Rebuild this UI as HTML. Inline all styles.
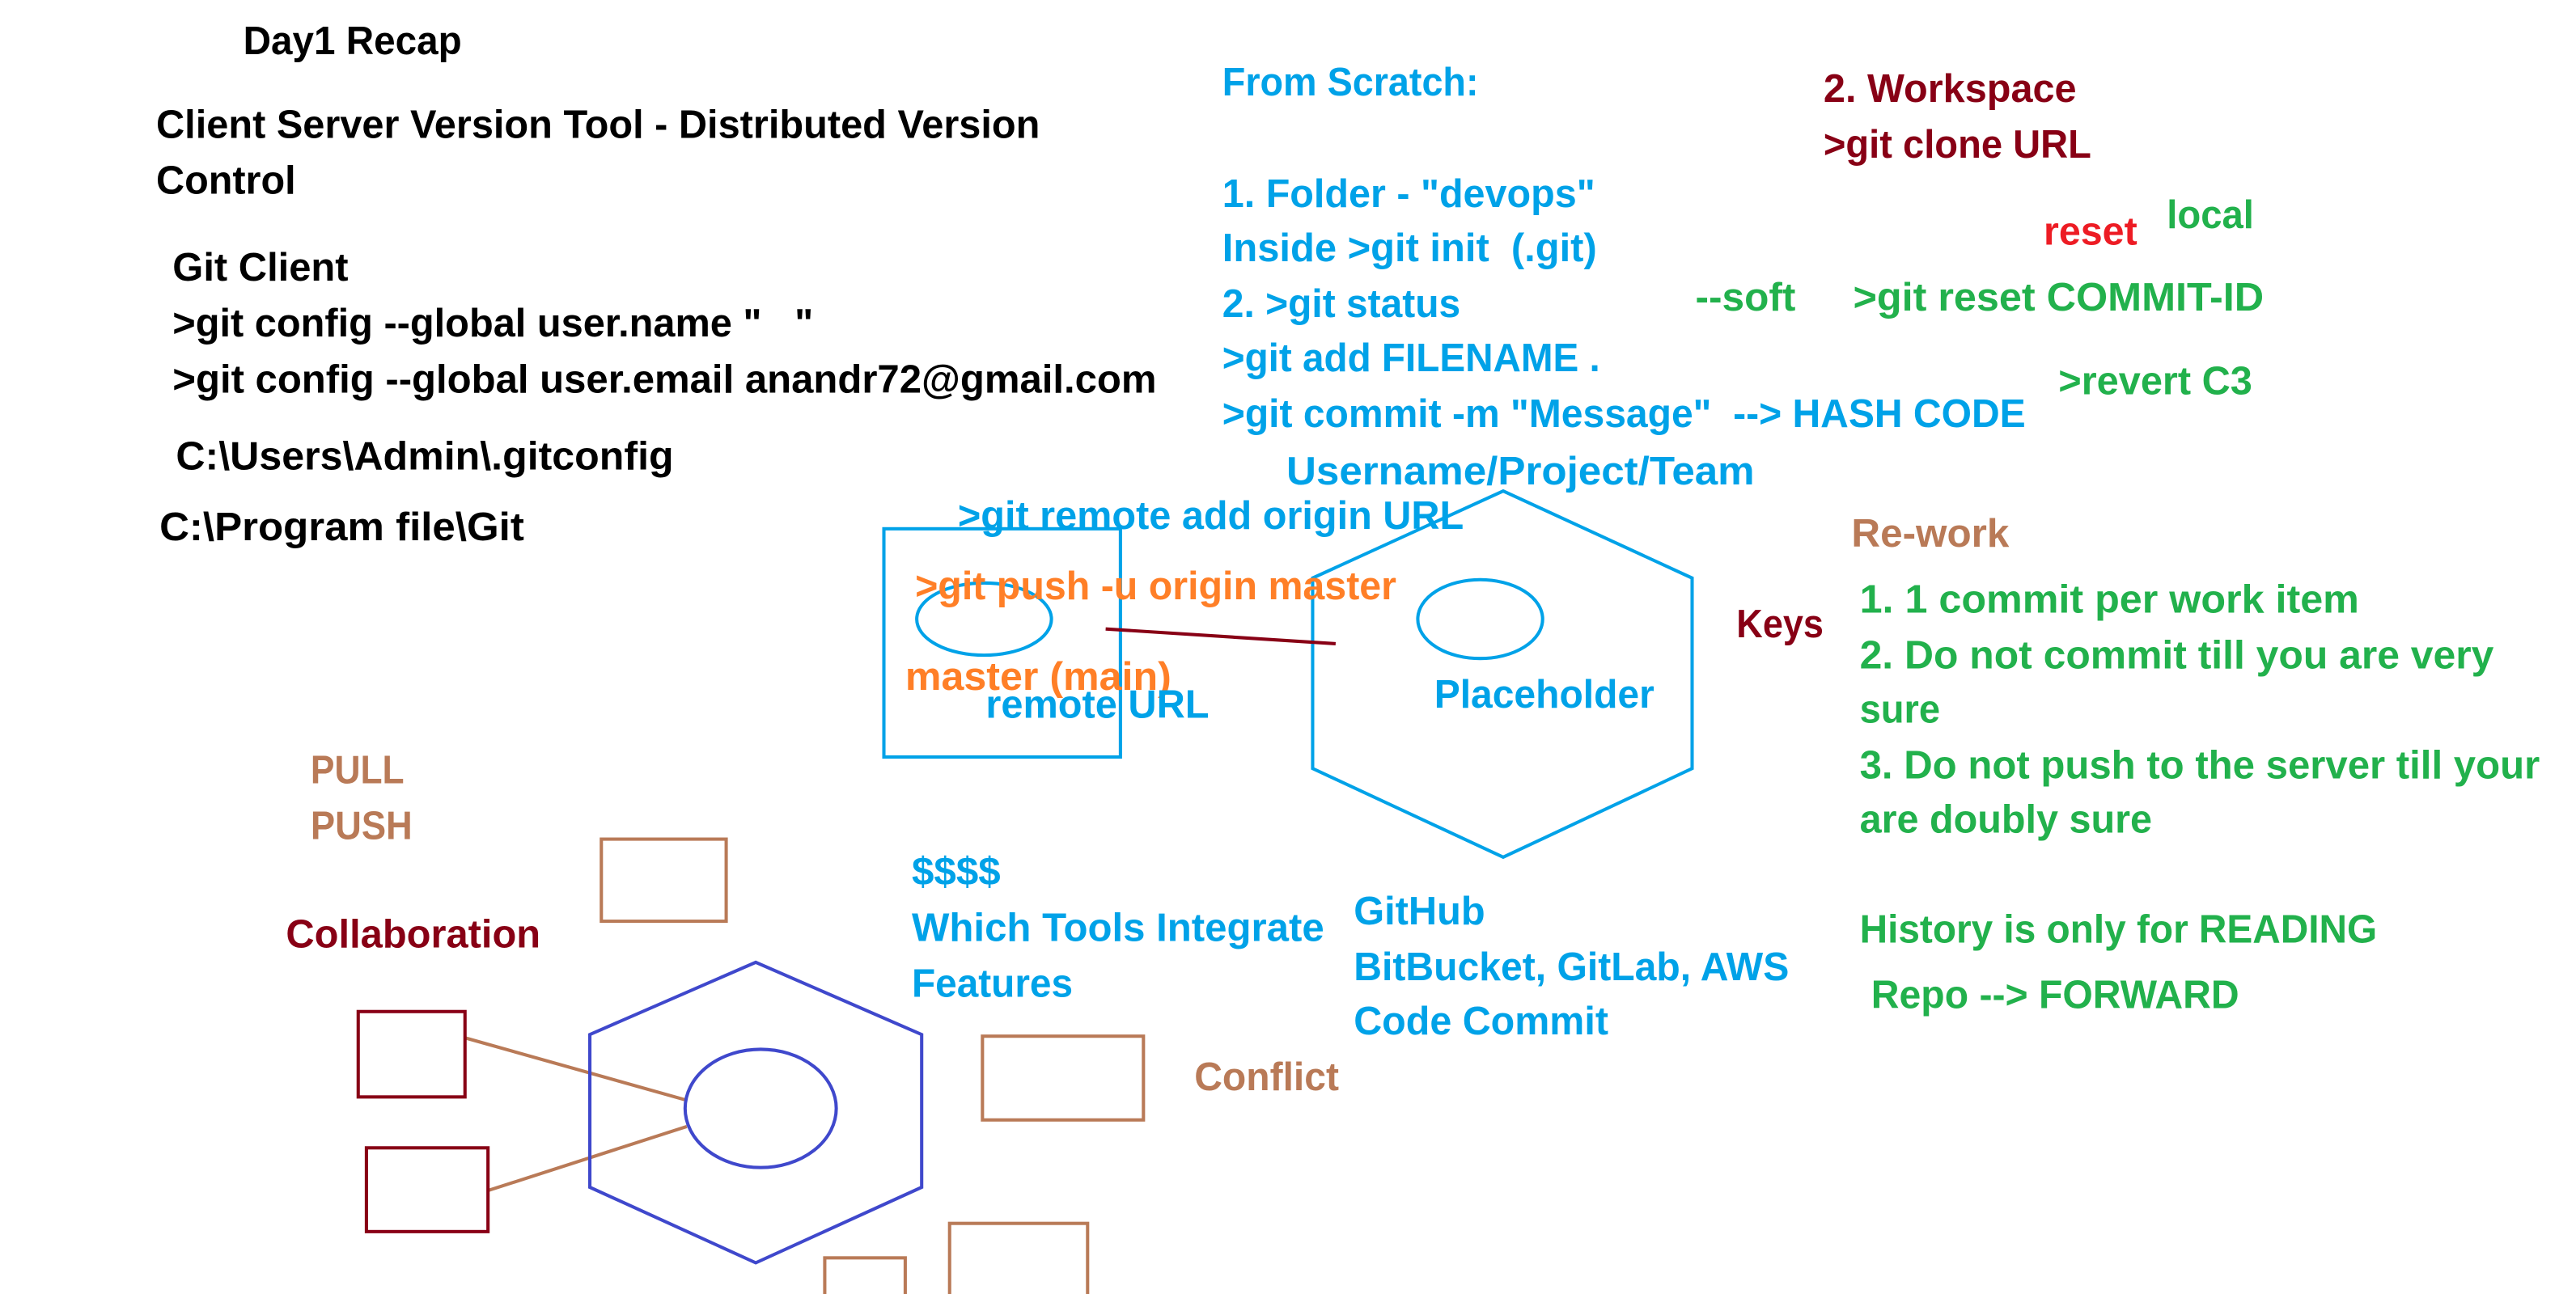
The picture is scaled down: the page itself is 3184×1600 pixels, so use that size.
<!DOCTYPE html>
<html><head><meta charset="utf-8"><style>
html,body{margin:0;padding:0;background:#fff;}
svg{display:block;}
text{font-family:"Liberation Sans",sans-serif;font-weight:bold;font-size:24px;}
.k{fill:#000}.b{fill:#00a2e8}.o{fill:#ff7f27}.d{fill:#880015}.r{fill:#ed1c24}.g{fill:#22b14c}.n{fill:#b97a57}
</style></head><body>
<svg width="3184" height="1600" viewBox="0 0 1568 788" xmlns="http://www.w3.org/2000/svg">
<rect width="1568" height="788" fill="#fff"/>
<g lengthAdjust="spacingAndGlyphs">
<text class="k" x="148" y="33" textLength="133" lengthAdjust="spacingAndGlyphs">Day1 Recap</text>
<text class="k" x="95" y="84" textLength="538" lengthAdjust="spacingAndGlyphs">Client Server Version Tool - Distributed Version</text>
<text class="k" x="95" y="118" textLength="85" lengthAdjust="spacingAndGlyphs">Control</text>
<text class="k" x="105" y="171" textLength="107" lengthAdjust="spacingAndGlyphs">Git Client</text>
<text class="k" x="105" y="205" textLength="390" lengthAdjust="spacingAndGlyphs" xml:space="preserve">&gt;git config --global user.name "   "</text>
<text class="k" x="105" y="239" textLength="599" lengthAdjust="spacingAndGlyphs">&gt;git config --global user.email anandr72@gmail.com</text>
<text class="k" x="107" y="286" textLength="303" lengthAdjust="spacingAndGlyphs">C:\Users\Admin\.gitconfig</text>
<text class="k" x="97" y="329" textLength="222" lengthAdjust="spacingAndGlyphs">C:\Program file\Git</text>

<text class="b" x="744" y="58" textLength="156" lengthAdjust="spacingAndGlyphs">From Scratch:</text>
<text class="b" x="744" y="126" textLength="227" lengthAdjust="spacingAndGlyphs">1. Folder - "devops"</text>
<text class="b" x="744" y="159" textLength="228" lengthAdjust="spacingAndGlyphs" xml:space="preserve">Inside &gt;git init  (.git)</text>
<text class="b" x="744" y="193" textLength="145" lengthAdjust="spacingAndGlyphs">2. &gt;git status</text>
<text class="b" x="744" y="226" textLength="230" lengthAdjust="spacingAndGlyphs">&gt;git add FILENAME .</text>
<text class="b" x="744" y="260" textLength="489" lengthAdjust="spacingAndGlyphs" xml:space="preserve">&gt;git commit -m "Message"  --&gt; HASH CODE</text>
<text class="b" x="783" y="295" textLength="285" lengthAdjust="spacingAndGlyphs">Username/Project/Team</text>
<text class="b" x="583" y="322" textLength="308" lengthAdjust="spacingAndGlyphs">&gt;git remote add origin URL</text>

<text class="d" x="1110" y="62" textLength="154" lengthAdjust="spacingAndGlyphs">2. Workspace</text>
<text class="d" x="1110" y="96" textLength="163" lengthAdjust="spacingAndGlyphs">&gt;git clone URL</text>
<text class="r" x="1244" y="149" textLength="57" lengthAdjust="spacingAndGlyphs">reset</text>
<text class="g" x="1319" y="139" textLength="53" lengthAdjust="spacingAndGlyphs">local</text>
<text class="g" x="1032" y="189" textLength="61" lengthAdjust="spacingAndGlyphs">--soft</text>
<text class="g" x="1128" y="189" textLength="250" lengthAdjust="spacingAndGlyphs">&gt;git reset COMMIT-ID</text>
<text class="g" x="1253" y="240" textLength="118" lengthAdjust="spacingAndGlyphs">&gt;revert C3</text>
</g>

<rect x="538" y="322" width="144" height="139" fill="none" stroke="#00a2e8" stroke-width="2"/>
<ellipse cx="599" cy="377" rx="41" ry="22" fill="none" stroke="#00a2e8" stroke-width="2"/>
<polygon points="915,299 1030,352 1030,468 915,522 799,468 799,352" fill="none" stroke="#00a2e8" stroke-width="2"/>
<ellipse cx="901" cy="377" rx="38" ry="24" fill="none" stroke="#00a2e8" stroke-width="2"/>
<line x1="673" y1="383" x2="813" y2="392" stroke="#880015" stroke-width="2"/>
<text class="o" x="557" y="365" textLength="293" lengthAdjust="spacingAndGlyphs">&gt;git push -u origin master</text>
<text class="o" x="551" y="420" textLength="162" lengthAdjust="spacingAndGlyphs">master (main)</text>
<text class="b" x="600" y="437" textLength="136" lengthAdjust="spacingAndGlyphs">remote URL</text>
<text class="b" x="873" y="431" textLength="134" lengthAdjust="spacingAndGlyphs">Placeholder</text>

<text class="n" x="1127" y="333" textLength="96" lengthAdjust="spacingAndGlyphs">Re-work</text>
<text class="d" x="1057" y="388" textLength="53" lengthAdjust="spacingAndGlyphs">Keys</text>
<text class="g" x="1132" y="373" textLength="304" lengthAdjust="spacingAndGlyphs">1. 1 commit per work item</text>
<text class="g" x="1132" y="407" textLength="386" lengthAdjust="spacingAndGlyphs">2. Do not commit till you are very</text>
<text class="g" x="1132" y="440" textLength="49" lengthAdjust="spacingAndGlyphs">sure</text>
<text class="g" x="1132" y="474" textLength="414" lengthAdjust="spacingAndGlyphs">3. Do not push to the server till your</text>
<text class="g" x="1132" y="507" textLength="178" lengthAdjust="spacingAndGlyphs">are doubly sure</text>
<text class="g" x="1132" y="574" textLength="315" lengthAdjust="spacingAndGlyphs">History is only for READING</text>
<text class="g" x="1139" y="614" textLength="224" lengthAdjust="spacingAndGlyphs">Repo --&gt; FORWARD</text>

<text class="n" x="189" y="477" textLength="57" lengthAdjust="spacingAndGlyphs">PULL</text>
<text class="n" x="189" y="511" textLength="62" lengthAdjust="spacingAndGlyphs">PUSH</text>
<text class="d" x="174" y="577" textLength="155" lengthAdjust="spacingAndGlyphs">Collaboration</text>
<text class="n" x="727" y="664" textLength="88" lengthAdjust="spacingAndGlyphs">Conflict</text>

<text class="b" x="555" y="539" textLength="54" lengthAdjust="spacingAndGlyphs">$$$$</text>
<text class="b" x="555" y="573" textLength="251" lengthAdjust="spacingAndGlyphs">Which Tools Integrate</text>
<text class="b" x="555" y="607" textLength="98" lengthAdjust="spacingAndGlyphs">Features</text>
<text class="b" x="824" y="563" textLength="80" lengthAdjust="spacingAndGlyphs">GitHub</text>
<text class="b" x="824" y="597" textLength="265" lengthAdjust="spacingAndGlyphs">BitBucket, GitLab, AWS</text>
<text class="b" x="824" y="630" textLength="155" lengthAdjust="spacingAndGlyphs">Code Commit</text>

<g fill="none" stroke="#b97a57" stroke-width="2">
<rect x="366" y="511" width="76" height="50"/>
<rect x="598" y="631" width="98" height="51"/>
<rect x="578" y="745" width="84" height="50"/>
<rect x="502" y="766" width="49" height="40"/>
<line x1="283" y1="632" x2="418" y2="670"/>
<line x1="297" y1="725" x2="418" y2="686"/>
</g>
<g fill="none" stroke="#880015" stroke-width="2">
<rect x="218" y="616" width="65" height="52"/>
<rect x="223" y="699" width="74" height="51"/>
</g>
<polygon points="460,586 561,630 561,723 460,769 359,723 359,630" fill="none" stroke="#3f48cc" stroke-width="2"/>
<ellipse cx="463" cy="675" rx="46" ry="36" fill="none" stroke="#3f48cc" stroke-width="2"/>
</svg>
</body></html>
